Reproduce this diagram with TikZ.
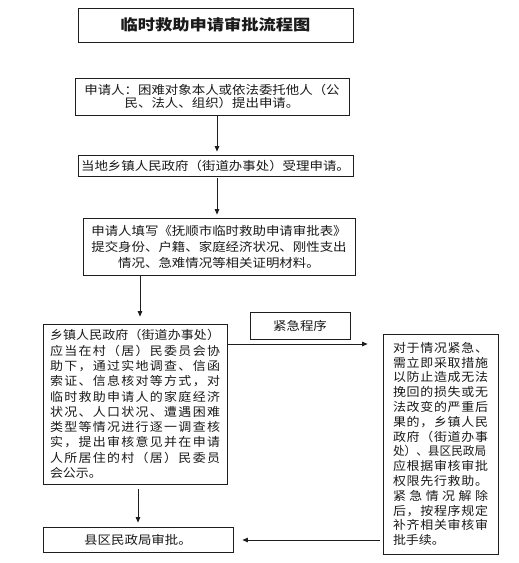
\documentclass[tikz,border=0pt]{standalone}
\usepackage{fontspec}
\usepackage{graphicx}
\usetikzlibrary{arrows.meta,calc}
\newfontfamily\cjka[FakeStretch=1.12]{Noto Sans CJK SC}
\newfontfamily\cjkb[FakeStretch=1.08]{Noto Sans CJK SC}
\newfontfamily\cjkt[FakeStretch=1.15]{Noto Sans CJK SC}
\definecolor{linec}{HTML}{1E1E1E}
\definecolor{textc}{HTML}{1A1A1A}
% justified line: spreads characters over a given width
\newcommand\jl[2]{\hbox to #1{\jlaux#2\relax}}
\def\jlaux#1#2{#1\ifx#2\relax\else\hfil\expandafter\jlaux\expandafter#2\fi}
\tikzset{
  box/.style={draw=linec, line width=0.8pt, inner sep=0pt, align=center, text=textc,
    font=\cjka\fontsize{12}{13}\selectfont},
  arr/.style={draw=linec, line width=0.8pt, -{Triangle[length=5.5pt,width=4.5pt]}}
}
\begin{document}
\begin{tikzpicture}[x=1pt,y=-1pt]
\fill[white] (0,0) rectangle (519,563);
\useasboundingbox (0,0) rectangle (519,563);
% title
\node[box, minimum width=275pt, minimum height=34pt,
  font=\cjkt\bfseries\fontsize{15}{17}\selectfont] (title) at (215.5,25) {临时救助申请审批流程图};
% steps
\node[box, minimum width=274pt, minimum height=37pt] (b2) at (212,96.5)
  {申请人：困难对象本人或依法委托他人（公\\民、法人、组织）提出申请。};
\node[box, minimum width=275pt, minimum height=21pt] (b3) at (215.5,165.5)
  {当地乡镇人民政府（街道办事处）受理申请。};
\node[box, minimum width=272pt, minimum height=57pt, font=\cjka\fontsize{12}{16}\selectfont] (b4) at (219,246.5)
  {申请人填写《抚顺市临时救助申请审批表》\\提交身份、户籍、家庭经济状况、刚性支出\\情况、急难情况等相关证明材料。};
\node[box, minimum width=184pt, minimum height=160pt, align=left,
  font=\cjkb\fontsize{12}{15.3}\selectfont] (b5) at (135,404)
  {\jl{170pt}{乡镇人民政府（街道办事处）}\\
   \jl{170pt}{应当在村（居）民委员会协}\\
   \jl{170pt}{助下，通过实地调查、信函}\\
   \jl{170pt}{索证、信息核对等方式，对}\\
   \jl{170pt}{临时救助申请人的家庭经济}\\
   \jl{170pt}{状况、人口状况、遭遇困难}\\
   \jl{170pt}{类型等情况进行逐一调查核}\\
   \jl{170pt}{实，提出审核意见并在申请}\\
   \jl{170pt}{人所居住的村（居）民委员}\\
   \hbox to 170pt{会公示。\hfil}};
\node[box, minimum width=190pt, minimum height=25pt] (b6) at (138,539.5)
  {县区民政局审批。};
\node[box, minimum width=100pt, minimum height=27pt] (em) at (300,325.5)
  {紧急程序};
\node[box, minimum width=115pt, minimum height=220pt, align=left,
  font=\cjkb\fontsize{12}{14.8}\selectfont] (b7) at (440.5,444)
  {\jl{95pt}{对于情况紧急、}\\
   \jl{95pt}{需立即采取措施}\\
   \jl{95pt}{以防止造成无法}\\
   \jl{95pt}{挽回的损失或无}\\
   \jl{95pt}{法改变的严重后}\\
   \jl{95pt}{果的，乡镇人民}\\
   \jl{95pt}{政府（街道办事}\\
   \hbox to 95pt{\scalebox{0.9}[1]{处）、县区民政局}\hss}\\
   \jl{95pt}{应根据审核审批}\\
   \jl{95pt}{权限先行救助。}\\
   \jl{95pt}{紧急情况解除}\\
   \jl{95pt}{后，按程序规定}\\
   \jl{95pt}{补齐相关审核审}\\
   \hbox to 95pt{批手续。\hfil}};
% connector columns / rows
\coordinate (xa) at (217,0);
\coordinate (xb) at (140,0);
\coordinate (xc) at (138,0);
\coordinate (ya) at (0,344);
\coordinate (yb) at (0,540);
% connectors
\draw[arr, shorten >=3pt] (b2.south -| xa) -- (b3.north -| xa);
\draw[arr, shorten <=2pt, shorten >=3pt] (b3.south -| xa) -- (b4.north -| xa);
\draw[arr, shorten >=7pt] (b4.south -| xb) -- (b5.north -| xb);
\draw[arr, shorten <=5pt, shorten >=4pt] (b5.south -| xc) -- (b6.north -| xc);
\draw[arr, shorten >=15pt] (b5.east |- ya) -- (b7.west |- ya);
\draw[arr, shorten <=3pt, shorten >=9pt] (b7.west |- yb) -- (b6.east |- yb);
\end{tikzpicture}
\end{document}
